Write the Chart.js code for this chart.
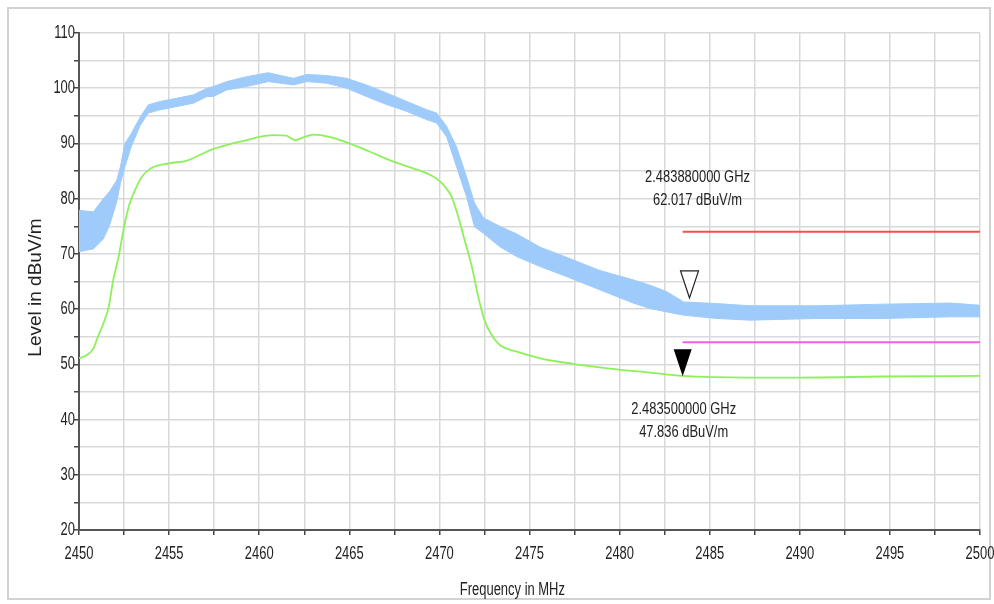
<!DOCTYPE html>
<html>
<head>
<meta charset="utf-8">
<script src="https://cdn.jsdelivr.net/npm/chart.js@4.4.1/dist/chart.umd.min.js"></script>
<style>
  html, body { margin:0; padding:0; background:#fff; }
  #frame { position:absolute; left:7px; top:7px; width:984px; height:593px; border:2px solid #d2d2d2; box-sizing:border-box; }
  #wrap { position:absolute; left:0; top:0; width:994px; height:604px; }
</style>
</head>
<body>
<div id="frame"></div>
<div id="wrap"><canvas id="scan" width="994" height="604"></canvas></div>
<script>

// peak trace (blue) - noise band read as upper / lower envelope
let blueFreq=[2450.0,2450.8,2451.35,2451.7,2452.1,2452.3,2452.55,2452.9,2453.4,2453.85,2454.5,2455.6,2456.35,2457.1,2457.45,2458.2,2459.3,2460.5,2461.9,2462.65,2463.75,2464.85,2465.95,2467.1,2468.2,2469.3,2469.85,2470.4,2470.95,2471.5,2471.95,2472.45,2473.35,2474.3,2475.6,2477.05,2478.9,2480.75,2481.7,2482.6,2483.55,2485.4,2487.25,2490.95,2494.65,2498.35,2500.0];
let blueUpper=[77.9,77.6,80.0,81.3,83.4,85.8,90.0,91.8,94.8,97.0,97.6,98.3,98.8,100.0,100.3,101.2,102.1,102.8,101.8,102.5,102.3,101.8,100.6,99.1,97.6,96.1,95.5,93.1,89.4,84.0,79.2,76.5,75.0,73.6,71.2,69.4,67.0,65.3,64.3,63.2,61.3,61.0,60.6,60.6,60.9,61.1,60.7];
let blueLower=[70.4,70.9,72.7,75.2,79.5,82.8,85.8,89.4,93.3,95.5,96.1,96.8,97.3,98.5,98.5,99.7,100.3,101.2,100.6,101.2,100.9,100.0,98.5,97.0,95.8,94.3,93.7,91.2,85.8,80.4,74.9,73.7,71.3,69.5,67.7,65.9,63.5,61.1,60.1,59.5,58.9,58.3,58.0,58.3,58.3,58.6,58.6];

// average trace (green)
let greenFreq=[2450.0,2450.45,2450.8,2451.05,2451.35,2451.65,2451.9,2452.2,2452.5,2452.8,2453.2,2453.5,2454.0,2455.0,2456.0,2456.7,2457.45,2458.5,2459.3,2460.0,2460.8,2461.5,2462.0,2462.45,2463.0,2463.9,2465.0,2466.15,2467.45,2468.55,2469.5,2470.05,2470.4,2470.7,2471.05,2471.4,2471.8,2472.15,2472.5,2472.9,2473.35,2474.3,2475.6,2477.4,2479.85,2481.7,2483.5,2487.2,2490.0,2494.6,2500.0];
let greenLevel=[51.1,51.7,52.9,55.0,57.4,60.4,65.3,69.5,74.9,79.0,82.2,84.0,85.5,86.4,86.9,87.9,89.0,90.0,90.6,91.2,91.5,91.4,90.6,91.1,91.6,91.2,90.0,88.5,86.7,85.5,84.3,83.1,81.8,80.2,76.7,72.5,67.7,62.3,58.0,55.3,53.5,52.3,51.1,50.1,49.1,48.5,47.9,47.6,47.6,47.8,47.9];

// limit lines
let limitFreq=[2483.5,2500];
let peakLimit=[74,74];
let avgLimit=[54,54];

// markers
let markerFreq=[2483.88,2483.5];
let markerLevel=[62.017,47.836];
let markerText=[["2.483880000 GHz","62.017 dBuV/m"],["2.483500000 GHz","47.836 dBuV/m"]];

const xTitle="Frequency in MHz";
const yTitle="Level in dBuV/m";

function pts(xs,ys){
    let out=[];
    for(let i=0;i<xs.length;i++){
        out.push({x:xs[i],y:ys[i]});
    }
    return out;
}

const sans='"Liberation Sans", Arial, sans-serif';

// the original export has horizontally squeezed text, so draw it narrowed
function squeezed(ctx,text,x,y,size,sx,align){
    ctx.save();
    ctx.font=size+'px '+sans;
    ctx.textAlign=align;
    ctx.textBaseline='middle';
    ctx.translate(x,y);
    ctx.scale(sx,1);
    ctx.fillText(text,0,0);
    ctx.restore();
}

const textPlugin={
    id:'texts',
    afterDraw(chart){
        const ctx=chart.ctx;
        const xs=chart.scales.x, ys=chart.scales.y;
        ctx.save();
        ctx.fillStyle='#222';

        // tick labels
        xs.ticks.forEach(t=>{
            if(t.value%5===0){
                squeezed(ctx,String(t.value),xs.getPixelForValue(t.value),554,18,0.72,'center');
            }
        });
        ys.ticks.forEach(t=>{
            if(t.value%10===0){
                squeezed(ctx,String(t.value),75,ys.getPixelForValue(t.value),18,0.72,'right');
            }
        });

        // markers
        for(let i=0;i<markerFreq.length;i++){
            const px=xs.getPixelForValue(markerFreq[i]);
            const py=ys.getPixelForValue(markerLevel[i]);
            ctx.beginPath();
            ctx.moveTo(px,py);
            ctx.lineTo(px-9,py-27);
            ctx.lineTo(px+9,py-27);
            ctx.closePath();
            if(i==0){
                ctx.fillStyle='#fff';
                ctx.fill();
                ctx.lineWidth=1.2;
                ctx.strokeStyle='#222';
                ctx.stroke();
            }
            else{
                ctx.fillStyle='#000';
                ctx.fill();
            }
            ctx.fillStyle='#222';
            if(i==0){
                squeezed(ctx,markerText[i][0],px+8,py-121,17,0.76,'center');
                squeezed(ctx,markerText[i][1],px+8,py-98,17,0.76,'center');
            }
            else{
                squeezed(ctx,markerText[i][0],px+1,py+33,17,0.76,'center');
                squeezed(ctx,markerText[i][1],px+1,py+56,17,0.76,'center');
            }
        }

        // axis titles
        squeezed(ctx,xTitle,xs.left+(xs.right-xs.left)*0.481,590,18,0.72,'center');
        ctx.translate(36,(ys.top+ys.bottom)/2+6);
        ctx.rotate(-Math.PI/2);
        ctx.font='19px '+sans;
        ctx.textAlign='center';
        ctx.textBaseline='middle';
        ctx.fillText(yTitle,0,0);
        ctx.restore();
    }
};

const graph=document.getElementById('scan').getContext('2d');

new Chart(graph,{
    type:'line',
    data:{
        datasets:[{
            label:'Peak upper',
            data:pts(blueFreq,blueUpper),
            borderColor:'#9fcbfb',
            backgroundColor:'#9fcbfb',
            borderWidth:1,
            pointRadius:0,
            fill:'+1',
            tension:0
        },{
            label:'Peak lower',
            data:pts(blueFreq,blueLower),
            borderColor:'#9fcbfb',
            borderWidth:1,
            pointRadius:0,
            fill:false,
            tension:0
        },{
            label:'Average',
            data:pts(greenFreq,greenLevel),
            borderColor:'#8ef05a',
            borderWidth:1.8,
            pointRadius:0,
            fill:false,
            cubicInterpolationMode:'monotone'
        },{
            label:'Peak limit',
            data:pts(limitFreq,peakLimit),
            borderColor:'#f5504a',
            borderWidth:2,
            pointRadius:0,
            fill:false
        },{
            label:'Average limit',
            data:pts(limitFreq,avgLimit),
            borderColor:'#f35cf0',
            borderWidth:2,
            pointRadius:0,
            fill:false
        }]
    },
    plugins:[textPlugin],
    options:{
        responsive:false,
        animation:false,
        layout:{padding:{left:0,right:14,top:33,bottom:0}},
        plugins:{legend:{display:false},tooltip:{enabled:false}},
        scales:{
            x:{
                type:'linear',
                min:2450,
                max:2500,
                afterFit(scale){ scale.height=74; },
                grid:{color:'#d9d9d9',lineWidth:1.5,tickColor:'#444',tickLength:5},
                border:{color:'#555',width:2},
                ticks:{stepSize:2.5,autoSkip:false,display:false}
            },
            y:{
                min:20,
                max:110,
                afterFit(scale){ scale.width=79; },
                grid:{color:'#d9d9d9',lineWidth:1.5,tickColor:'#444',tickLength:5},
                border:{color:'#555',width:2},
                ticks:{stepSize:5,autoSkip:false,display:false}
            }
        }
    }
});

</script>
</body>
</html>
